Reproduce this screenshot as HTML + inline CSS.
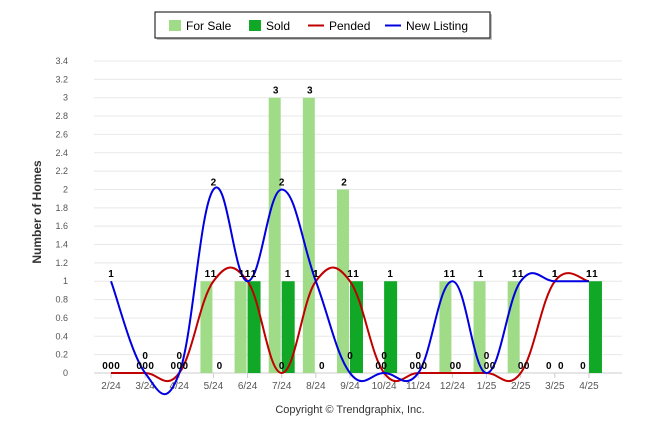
<!DOCTYPE html>
<html><head><meta charset="utf-8"><style>
body{margin:0;background:#fff;font-family:"Liberation Sans",Arial,sans-serif}
svg text{font-family:"Liberation Sans",Arial,sans-serif}
</style></head><body>
<svg id="c" width="646" height="434" xmlns="http://www.w3.org/2000/svg">
<g>
<rect x="157" y="14" width="335" height="26" fill="#888" opacity="0.5"/>
<rect x="155" y="12" width="335" height="26" fill="#fff" stroke="#000" stroke-width="1"/>
<rect x="169" y="20" width="12" height="11" fill="#a0dc88"/>
<text x="186" y="30" font-size="12">For Sale</text>
<rect x="249" y="20" width="12" height="11" fill="#10a826"/>
<text x="266" y="30" font-size="12">Sold</text>
<line x1="308" y1="25.5" x2="324" y2="25.5" stroke="#c00000" stroke-width="2"/>
<text x="329" y="30" font-size="12">Pended</text>
<line x1="385" y1="25.5" x2="401" y2="25.5" stroke="#0000e0" stroke-width="2"/>
<text x="406" y="30" font-size="12">New Listing</text>
</g>
<g id="grid"></g><g id="bars"></g><g id="lines"></g><g id="labels"></g>
<text x="0" y="0" transform="translate(41,212) rotate(-90)" text-anchor="middle" font-size="12" font-weight="bold" fill="#333">Number of Homes</text>
<text x="350" y="413" text-anchor="middle" font-size="11" fill="#333">Copyright © Trendgraphix, Inc.</text>
</svg>
<script>
const months=["2/24","3/24","4/24","5/24","6/24","7/24","8/24","9/24","10/24","11/24","12/24","1/25","2/25","3/25","4/25"];
const forSale=[0,0,0,1,1,3,3,2,0,0,1,1,1,0,0];
const sold=[0,0,0,0,1,1,0,1,1,0,0,0,0,0,1];
const pended=[0,0,0,1,1,0,1,1,0,0,0,0,0,1,1];
const newListing=[1,0,0,2,1,2,1,0,0,0,1,0,1,1,1];
const yTicks=[0,0.2,0.4,0.6,0.8,1,1.2,1.4,1.6,1.8,2,2.2,2.4,2.6,2.8,3,3.2,3.4];
const NS="http://www.w3.org/2000/svg";
const X=i=>111+i*34.14, Y=v=>373-v*(312/3.4);
function mk(t,a,p){const e=document.createElementNS(NS,t);for(const k in a)e.setAttribute(k,a[k]);p.appendChild(e);return e;}
const grid=document.getElementById('grid'),bars=document.getElementById('bars'),lines=document.getElementById('lines'),labels=document.getElementById('labels');
yTicks.forEach(v=>{
 const l=mk('line',{x1:94,x2:622,y1:Y(v),y2:Y(v),stroke:v===0?'#ccc':'#e8e8e8'},grid);
 
 
 const t=mk('text',{x:68,y:Y(v)+3,'text-anchor':'end','font-size':9,fill:'#555'},grid);t.textContent=String(v);
 
 
});
months.forEach((m,i)=>{
 const t=mk('text',{x:X(i),y:389,'text-anchor':'middle','font-size':10,fill:'#555'},grid);t.textContent=m;
 
 
 mk('line',{x1:X(i),x2:X(i),y1:373,y2:378,stroke:'#ccc'},grid);
 if(forSale[i]>0){const r=mk('rect',{x:X(i)-13,y:Y(forSale[i]),width:12,height:373-Y(forSale[i]),fill:'#a0dc88'},bars);
  
  }
 if(sold[i]>0){const r=mk('rect',{x:X(i),y:Y(sold[i]),width:13,height:373-Y(sold[i]),fill:'#10a826'},bars);
  
  }
});
function spline(vals){
 const p=vals.map((v,i)=>[X(i),Y(v)]);let d='M'+p[0][0]+','+p[0][1];
 for(let i=0;i<p.length-1;i++){
  const p0=p[i-1]||p[i],p1=p[i],p2=p[i+1],p3=p[i+2]||p2,k=1/5;
  const c1=[p1[0]+(p2[0]-p0[0])*k,p1[1]+(p2[1]-p0[1])*k],c2=[p2[0]-(p3[0]-p1[0])*k,p2[1]-(p3[1]-p1[1])*k];
  d+=' C'+c1+' '+c2+' '+p2;
 }return d;
}
const pl=mk('path',{d:spline(pended),fill:'none',stroke:'#c00000','stroke-width':2},lines);


const nl=mk('path',{d:spline(newListing),fill:'none',stroke:'#0000e0','stroke-width':2},lines);


function lab(x,y,v){const t=mk('text',{x:x,y:y,'text-anchor':'middle','font-size':10,'font-weight':'bold',fill:'#000'},labels);t.textContent=String(v);
 
 }
months.forEach((m,i)=>{
 lab(X(i)-6,Y(forSale[i])-4,forSale[i]);
 lab(X(i)+6,Y(sold[i])-4,sold[i]);
 lab(X(i),Y(pended[i])-4,pended[i]);
 lab(X(i),Y(newListing[i])+(newListing[i]===0?-14:-4),newListing[i]);
});
</script>
</body></html>
